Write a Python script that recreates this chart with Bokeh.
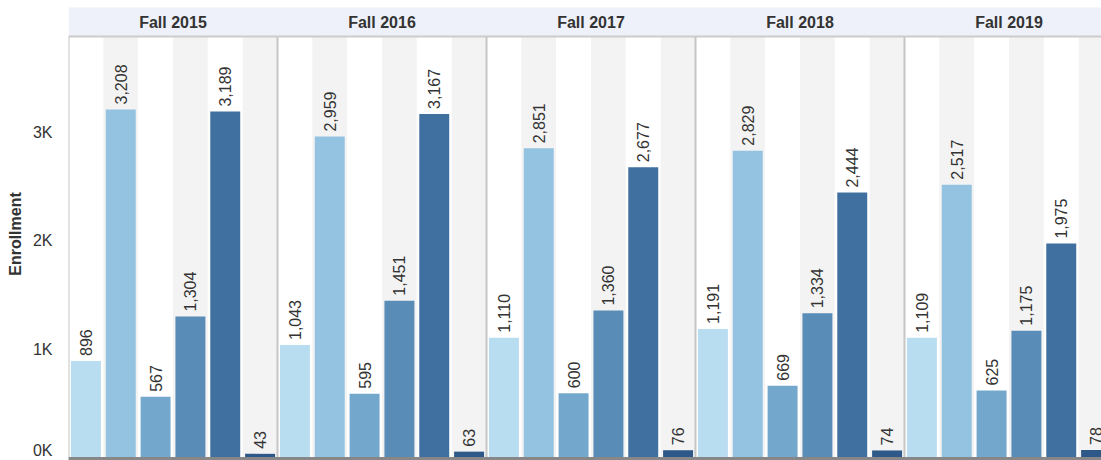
import numpy as np
from bokeh.plotting import figure
from bokeh.models import ColumnDataSource, Range1d, FixedTicker, Span
from bokeh.core.properties import value
from bokeh.embed import file_html
from bokeh.resources import INLINE

# ---- data ----
terms = ["Fall 2015", "Fall 2016", "Fall 2017", "Fall 2018", "Fall 2019"]
segments = ["Segment 1", "Segment 2", "Segment 3", "Segment 4", "Segment 5", "Segment 6"]
fall_2015 = [896, 3208, 567, 1304, 3189, 43]
fall_2016 = [1043, 2959, 595, 1451, 3167, 63]
fall_2017 = [1110, 2851, 600, 1360, 2677, 76]
fall_2018 = [1191, 2829, 669, 1334, 2444, 74]
fall_2019 = [1109, 2517, 625, 1175, 1975, 78]
segment_colors = ["#b9ddf0", "#94c3e1", "#74a7cc", "#5a8cb8", "#40709f", "#2d5888"]
y_ticks = [0, 1000, 2000, 3000]
y_tick_labels = ["0K", "1K", "2K", "3K"]

FONT = "Liberation Sans"
TEXT = "#333333"
values_by_term = [fall_2015, fall_2016, fall_2017, fall_2018, fall_2019]
ncol = len(segments)

# ---- geometry (layout only) ----
W, H = 1101, 460
left_border, top_border = 68, 7
frame_w = W - left_border
frame_h = H - top_border
col_px = 209 / 6.0
x_end = frame_w / col_px
px_per_unit = 0.1088
y_start = -2 / px_per_unit
y_end = y_start + frame_h / px_per_unit
plot_top = 422 / px_per_unit

xs, tops, cols, labels = [], [], [], []
for i, vals in enumerate(values_by_term):
    for j, v in enumerate(vals):
        xs.append(i * ncol + j + 0.5)
        tops.append(v)
        cols.append(segment_colors[j])
        labels.append(f"{v:,}")
src = ColumnDataSource(dict(x=xs, top=tops, color=cols, label=labels))

bg_x = [k + 0.5 for k in range(len(terms) * ncol)]
bg_c = ["#ffffff" if (k % 2 == 0) else "#f3f3f3" for k in range(len(terms) * ncol)]

p = figure(width=W, height=H, output_backend="svg", toolbar_location=None,
           x_range=Range1d(0, x_end), y_range=Range1d(y_start, y_end),
           x_axis_location=None, min_border_left=left_border, min_border_right=0,
           min_border_top=top_border, min_border_bottom=0)
p.outline_line_color = None
p.grid.visible = False
p.background_fill_color = "white"
p.border_fill_color = "white"

# column backgrounds
p.vbar(x=bg_x, width=1.0, bottom=y_start, top=plot_top, fill_color=bg_c, line_color=None)

# bars
p.vbar(x="x", width=0.86, bottom=0, top="top", fill_color="color", line_color=None, source=src)

# value labels
p.text(x="x", y="top", text="label", angle=np.pi / 2, text_align="left",
       text_baseline="middle", y_offset=-5, text_font=value(FONT),
       text_font_size="16px", text_color=TEXT, source=src)

# panel separators
sep_x = [i * ncol for i in range(len(terms))]
p.segment(x0=sep_x, y0=[y_start] * len(sep_x), x1=sep_x, y1=[plot_top] * len(sep_x),
          line_color="#c6c6c6", line_width=2)

# header band
p.quad(left=[0], right=[x_end + 1], bottom=[plot_top], top=[y_end + 50],
       fill_color="#eef1f9", line_color=None)
p.add_layout(Span(location=plot_top, dimension="width", line_color="#cccccc", line_width=2))
p.text(x=[i * ncol + ncol / 2 for i in range(len(terms))], y=[(plot_top + y_end) / 2] * len(terms),
       text=terms, text_align="center", text_baseline="middle", text_font=value(FONT),
       text_font_size="16px", text_font_style="bold", text_color=TEXT)

# baseline
p.add_layout(Span(location=0, dimension="width", line_color="#878787", line_width=3))

# y axis: the lowest label is kept inside the pane (clamped 8px up), as in the reference
clamp = 8 / px_per_unit
label_pos = [max(t, clamp) for t in y_ticks]
ax = p.yaxis[0]
ax.ticker = FixedTicker(ticks=label_pos)
ax.major_label_overrides = {pos: lab for pos, lab in zip(label_pos, y_tick_labels)}
ax.axis_line_color = None
ax.major_tick_line_color = None
ax.minor_tick_line_color = None
ax.major_label_standoff = 10
ax.major_label_text_font = FONT
ax.major_label_text_font_size = "16px"
ax.major_label_text_color = TEXT
ax.axis_label = "Enrollment"
ax.axis_label_text_font = FONT
ax.axis_label_text_font_size = "16px"
ax.axis_label_text_font_style = "bold"
ax.axis_label_text_color = TEXT
ax.axis_label_standoff = 6

open("out.html", "w").write(file_html(p, INLINE))
